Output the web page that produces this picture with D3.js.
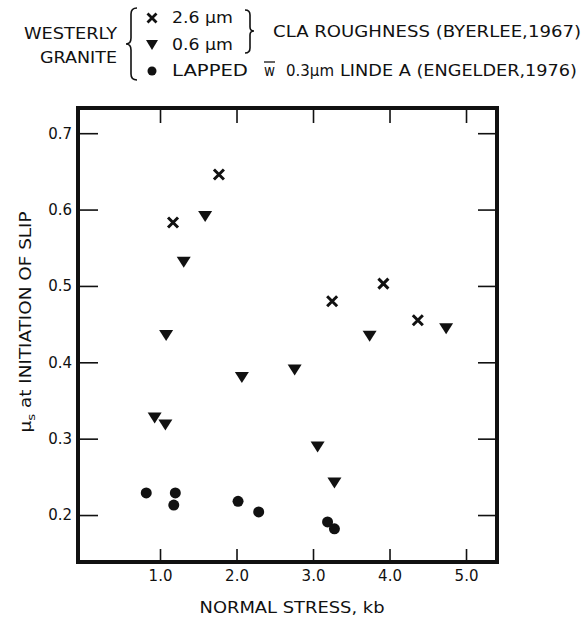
<!DOCTYPE html>
<html>
<head>
<meta charset="utf-8">
<script src="https://cdn.jsdelivr.net/npm/d3@7"></script>
<style>
  body { margin: 0; background: #fff; }
  text { font-family: "DejaVu Sans", sans-serif; fill: #111; }
</style>
</head>
<body>
<svg id="chart" width="584" height="617"></svg>
<script>
// CLA roughness 2.6 um (Byerlee, 1967)
const crossX = [1.17, 1.77, 3.25, 3.92, 4.37];
const crossY = [0.583, 0.646, 0.480, 0.503, 0.455];

// CLA roughness 0.6 um (Byerlee, 1967)
const triX = [1.59, 1.31, 1.08, 2.07, 2.76, 0.93, 1.07, 3.06, 3.28, 3.74, 4.74];
const triY = [0.591, 0.531, 0.435, 0.380, 0.390, 0.327, 0.318, 0.289, 0.242, 0.434, 0.444];

// lapped, Linde A (Engelder, 1976)
const circX = [0.82, 1.20, 1.18, 2.02, 2.29, 3.19, 3.28];
const circY = [0.229, 0.229, 0.213, 0.218, 0.204, 0.191, 0.182];

const xTicks = [1, 2, 3, 4, 5];
const yTicks = [0.2, 0.3, 0.4, 0.5, 0.6, 0.7];

const frame = { left: 78, top: 108, right: 497, bottom: 562 };

const svg = d3.select('#chart');

const x = d3.scaleLinear().domain([-0.072, 5.405]).range([frame.left, frame.right]);
const y = d3.scaleLinear().domain([0.1385, 0.733]).range([frame.bottom, frame.top]);

// axes: ticks point inward
const fmt = d3.format('.1f');

const gBottom = svg.append('g')
  .attr('transform', `translate(0,${frame.bottom})`)
  .call(d3.axisBottom(x).tickValues(xTicks).tickSize(-13).tickPadding(8.5).tickFormat(fmt));

const gTop = svg.append('g')
  .attr('transform', `translate(0,${frame.top})`)
  .call(d3.axisTop(x).tickValues(xTicks).tickSize(-15).tickFormat(''));

const gLeft = svg.append('g')
  .attr('transform', `translate(${frame.left},0)`)
  .call(d3.axisLeft(y).tickValues(yTicks).tickSize(-20).tickPadding(6).tickFormat(fmt));

const gRight = svg.append('g')
  .attr('transform', `translate(${frame.right},0)`)
  .call(d3.axisRight(y).tickValues(yTicks).tickSize(-19).tickFormat(''));

[gBottom, gTop, gLeft, gRight].forEach(g => {
  g.select('.domain').remove();
  g.selectAll('.tick line').attr('stroke', '#111').attr('stroke-width', 1.6);
  g.selectAll('.tick text')
    .attr('font-size', '15px')
    .attr('font-family', '"DejaVu Sans", sans-serif')
    .attr('fill', '#111');
});

// frame
svg.append('rect')
  .attr('x', frame.left)
  .attr('y', frame.top)
  .attr('width', frame.right - frame.left)
  .attr('height', frame.bottom - frame.top)
  .attr('fill', 'none')
  .attr('stroke', '#111')
  .attr('stroke-width', 4);

// marker shapes
const crossPath = s => `M${-s},${-s}L${s},${s}M${-s},${s}L${s},${-s}`;
const triPath = (w, h) => `M${-w / 2},${-h / 2}L${w / 2},${-h / 2}L0,${h / 2}Z`;

const crosses = crossX.map((v, i) => [v, crossY[i]]);
const tris = triX.map((v, i) => [v, triY[i]]);
const circs = circX.map((v, i) => [v, circY[i]]);

svg.append('g').selectAll('path')
  .data(crosses)
  .join('path')
  .attr('transform', d => `translate(${x(d[0])},${y(d[1])})`)
  .attr('d', crossPath(5))
  .attr('stroke', '#111')
  .attr('stroke-width', 3)
  .attr('fill', 'none');

svg.append('g').selectAll('path')
  .data(tris)
  .join('path')
  .attr('transform', d => `translate(${x(d[0])},${y(d[1])})`)
  .attr('d', triPath(14, 11))
  .attr('fill', '#111');

svg.append('g').selectAll('circle')
  .data(circs)
  .join('circle')
  .attr('cx', d => x(d[0]))
  .attr('cy', d => y(d[1]))
  .attr('r', 5.5)
  .attr('fill', '#111');

// axis titles
svg.append('text')
  .attr('x', 292)
  .attr('y', 613)
  .attr('text-anchor', 'middle')
  .attr('font-size', '15px')
  .attr('textLength', 185)
  .attr('lengthAdjust', 'spacingAndGlyphs')
  .text('NORMAL STRESS, kb');

const yTitle = svg.append('text')
  .attr('transform', 'translate(31,322) rotate(-90)')
  .attr('text-anchor', 'middle')
  .attr('font-size', '15px')
  .attr('textLength', 221)
  .attr('lengthAdjust', 'spacingAndGlyphs');
yTitle.append('tspan').text('\u03bc');
yTitle.append('tspan').attr('font-size', '11px').attr('dy', 4).text('s');
yTitle.append('tspan').attr('dy', -4).text(' at INITIATION OF SLIP');

// legend
const leg = svg.append('g');
const legText = (tx, ty, str, len, anchor) => leg.append('text')
  .attr('x', tx)
  .attr('y', ty)
  .attr('text-anchor', anchor || 'start')
  .attr('font-size', '15px')
  .attr('textLength', len)
  .attr('lengthAdjust', 'spacingAndGlyphs')
  .text(str);

legText(117, 39, 'WESTERLY', 93, 'end');
legText(117, 63, 'GRANITE', 77, 'end');

leg.append('path')
  .attr('d', 'M137,8 Q131,8 131,14 L131,38 Q131,44 126,44 Q131,44 131,50 L131,74 Q131,80 137,80')
  .attr('fill', 'none').attr('stroke', '#111').attr('stroke-width', 1.6);

leg.append('path')
  .attr('d', 'M245,10 Q250,10 250,15 L250,27 Q250,31 254,31 Q250,31 250,35 L250,48 Q250,53 245,53')
  .attr('fill', 'none').attr('stroke', '#111').attr('stroke-width', 1.6);

leg.append('path')
  .attr('transform', 'translate(152,18)')
  .attr('d', crossPath(4.5))
  .attr('stroke', '#111').attr('stroke-width', 2.8).attr('fill', 'none');
leg.append('path')
  .attr('transform', 'translate(152,45)')
  .attr('d', triPath(12, 10))
  .attr('fill', '#111');
leg.append('circle')
  .attr('cx', 152).attr('cy', 71).attr('r', 4.5)
  .attr('fill', '#111');

legText(172, 23, '2.6 \u03bcm', 61);
legText(172, 50, '0.6 \u03bcm', 61);
legText(273, 37, 'CLA ROUGHNESS (BYERLEE,1967)', 308);

legText(172, 76, 'LAPPED', 76);
legText(264, 76, 'w', 11);
leg.append('line')
  .attr('x1', 264).attr('x2', 275)
  .attr('y1', 62).attr('y2', 62)
  .attr('stroke', '#111').attr('stroke-width', 1.3);
leg.append('text')
  .attr('x', 286)
  .attr('y', 76)
  .attr('font-size', '15px')
  .text('0.3\u03bcm');
legText(340, 76, 'LINDE A (ENGELDER,1976)', 237);
</script>
</body>
</html>
